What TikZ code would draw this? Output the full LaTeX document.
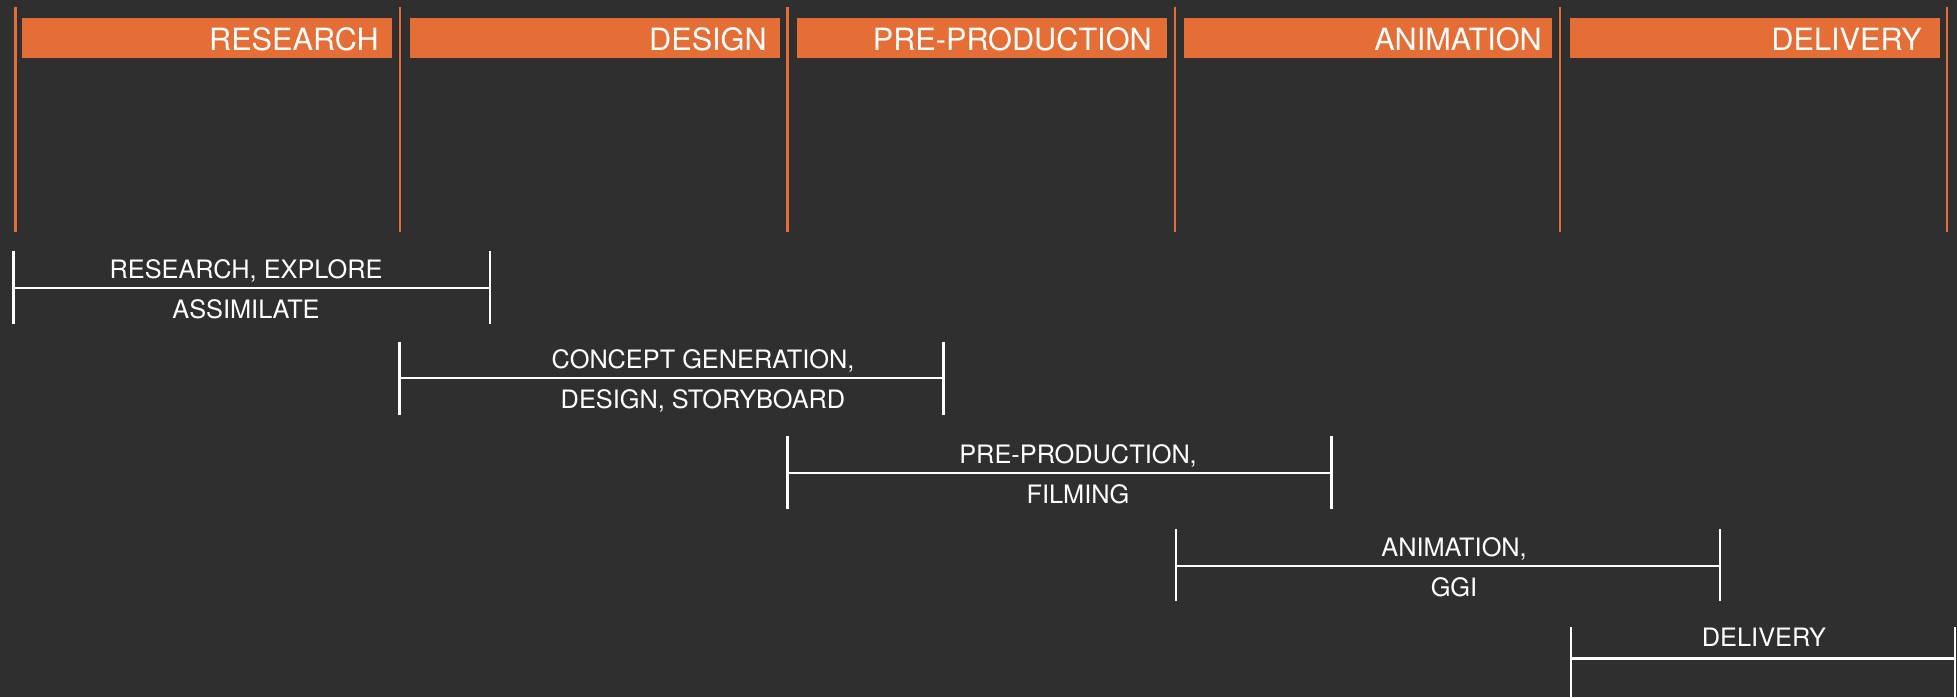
\documentclass[tikz,border=0pt]{standalone}
\usepackage{fontspec}
\setmainfont{TeX Gyre Heros}
\definecolor{bg}{RGB}{47,47,47}
\definecolor{accent}{RGB}{228,110,54}
\begin{document}
\begin{tikzpicture}[x=0.75pt,y=-0.75pt,
  phasebar/.style={fill=accent, draw=none},
  phaseline/.style={draw=accent, line width=2pt},
  headtext/.style={text=white, font=\fontsize{23}{25}\selectfont, anchor=base east, inner sep=0pt},
  spanline/.style={draw=white, line width=1.8pt},
  spantext/.style={text=white, font=\fontsize{19}{21}\selectfont, anchor=base, inner sep=0pt}]
\useasboundingbox (0,0) rectangle (1957,697);
\clip (0,0) rectangle (1957,697);
\fill[bg] (0,0) rectangle (1957,697);

% phase separator lines
\foreach \n/\x in {l0/15.7, l1/400, l2/787.5, l3/1175, l4/1560, l5/1947}{
  \coordinate (\n t) at (\x,7);
  \coordinate (\n b) at (\x,232);
  \draw[phaseline] (\n t) -- (\n b);
}

% phase header bars
\fill[phasebar] (22,18) rectangle (392,58);
\fill[phasebar] (410,18) rectangle (780,58);
\fill[phasebar] (797,18) rectangle (1167,58);
\fill[phasebar] (1184,18) rectangle (1552,58);
\fill[phasebar] (1570,18) rectangle (1940,58);
\node[headtext] (h1) at (379,50) {RESEARCH};
\node[headtext] (h2) at (767,50) {DESIGN};
\node[headtext] (h3) at (1152,50) {PRE-PRODUCTION};
\node[headtext] (h4) at (1542,50) {ANIMATION};
\node[headtext] (h5) at (1922,50) {DELIVERY};

% span brackets
% 1
\coordinate (s1l) at (13.3,288); \coordinate (s1r) at (490,288);
\draw[spanline] (13.3,251) -- (13.3,324);
\draw[spanline] (490,251) -- (490,324);
\draw[spanline] (s1l) -- (s1r);
\node[spantext] (t1a) at (246,278) {RESEARCH, EXPLORE};
\node[spantext] (t1b) at (246,318) {ASSIMILATE};
% 2
\coordinate (s2l) at (399.5,378); \coordinate (s2r) at (943.5,378);
\draw[spanline] (399.5,342) -- (399.5,415);
\draw[spanline] (943.5,342) -- (943.5,415);
\draw[spanline] (s2l) -- (s2r);
\node[spantext] (t2a) at (703,368) {CONCEPT GENERATION,};
\node[spantext] (t2b) at (703,408) {DESIGN, STORYBOARD};
% 3
\coordinate (s3l) at (787.5,473); \coordinate (s3r) at (1331.5,473);
\draw[spanline] (787.5,436) -- (787.5,509);
\draw[spanline] (1331.5,436) -- (1331.5,509);
\draw[spanline] (s3l) -- (s3r);
\node[spantext] (t3a) at (1078,463) {PRE-PRODUCTION,};
\node[spantext] (t3b) at (1078,503) {FILMING};
% 4
\coordinate (s4l) at (1175.7,566); \coordinate (s4r) at (1719.7,566);
\draw[spanline] (1175.7,529) -- (1175.7,601);
\draw[spanline] (1719.7,529) -- (1719.7,601);
\draw[spanline] (s4l) -- (s4r);
\node[spantext] (t4a) at (1454,556) {ANIMATION,};
\node[spantext] (t4b) at (1454,596) {GGI};
% 5
\coordinate (s5l) at (1570.7,658.5); \coordinate (s5r) at (1955,658.5);
\draw[spanline] (1570.7,627) -- (1570.7,700);
\draw[spanline] (1955,627) -- (1955,700);
\draw[spanline] (s5l) -- (s5r);
\node[spantext] (t5a) at (1764,646) {DELIVERY};
\end{tikzpicture}
\end{document}
